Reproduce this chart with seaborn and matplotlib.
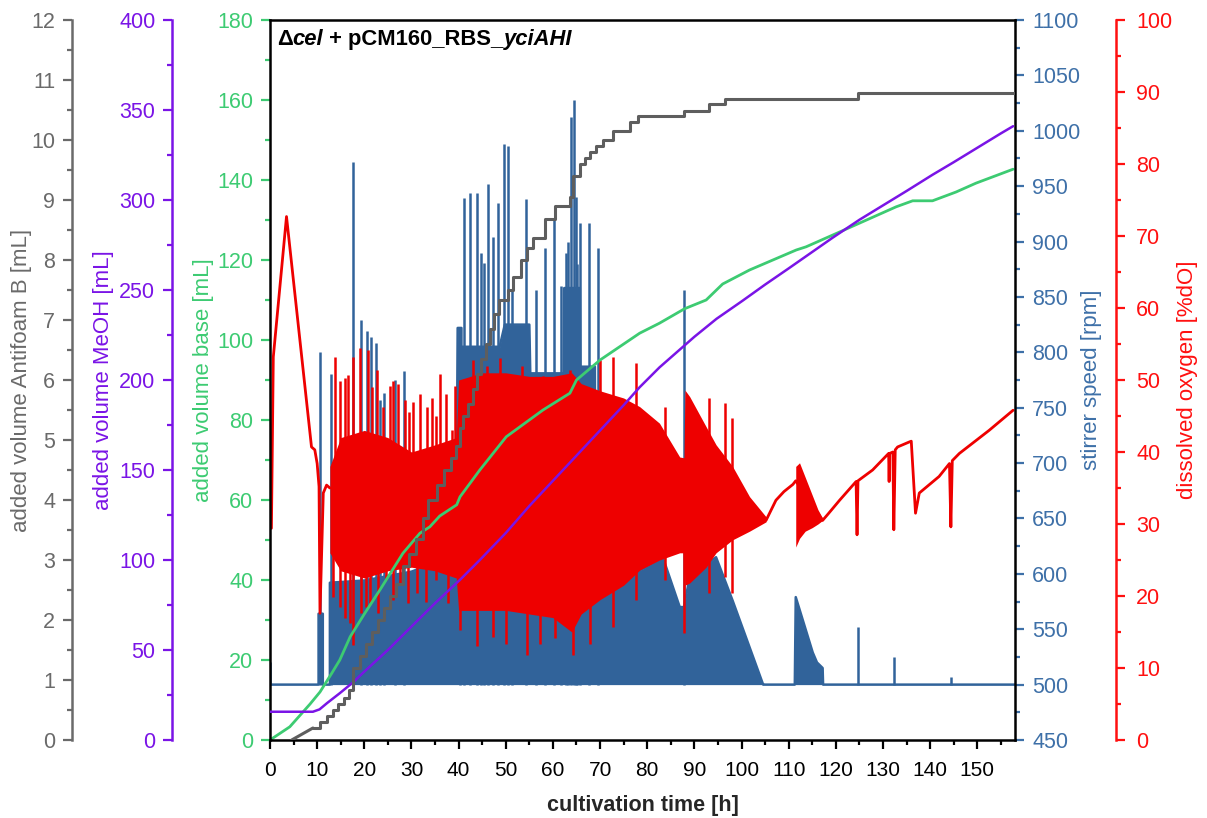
import numpy as np
import matplotlib
matplotlib.use("Agg")
import matplotlib.pyplot as plt
import seaborn as sns
from matplotlib.ticker import MultipleLocator
from matplotlib.offsetbox import TextArea, HPacker, AnchoredOffsetbox

# ---------------- data ----------------
# added volume of base [mL]
base_t = [0, 4.2, 8.5, 10.6, 13.1, 14.8, 17.0, 20.0, 23.3, 28.2, 31.8, 33.9, 36.0,
          39.6, 40.3, 44.5, 50.1, 57.9, 63.6, 65.0, 70.0, 78.4, 82.6, 87.9, 92.5,
          96.0, 101.7, 111.6, 113.7, 120.8, 132.8, 136.3, 140.5, 145.5, 149.7, 157.6]
base_v = [0, 3.3, 9.0, 12.0, 16.7, 20.0, 25.8, 31.5, 37.5, 46.7, 51.7, 53.3, 56.0,
          58.8, 60.8, 67.5, 75.8, 82.5, 86.7, 90.0, 95.0, 101.7, 104.2, 107.8, 110.0,
          114.0, 117.5, 122.5, 123.3, 127.0, 133.3, 134.8, 134.8, 137.0, 139.2, 142.7]

# added volume of methanol [mL]
meoh_t = [0, 9.1, 10.5, 12.1, 14.8, 17.6, 20, 25, 30, 35, 40.3, 44.5, 50, 55, 60, 65,
          70, 75, 78.4, 82.6, 90, 94.7, 100.2, 105, 110, 119.3, 125, 130, 135, 140.5,
          145, 150, 155, 157.6]
meoh_v = [15.7, 15.7, 17, 20.5, 26, 32, 38, 50, 63, 76, 89, 100, 115, 130, 144, 158,
          172, 186, 196, 207, 224, 234, 244, 253, 262, 279, 289, 297, 305, 314,
          321, 329, 337, 341]

# added volume of Antifoam B [mL]: initial ramp, then pump pulses
af_ramp_t = [4.6, 9.1]
af_ramp_v = [0.0, 0.2]
af_t = [9.1, 10.5, 12.0, 13.3, 14.5, 15.7, 16.8, 17.6, 19.0, 20.3, 21.6, 22.9, 24.2,
        25.5, 26.8, 28.2, 29.5, 31.0, 32.4, 33.6, 35.5, 37.0, 38.3, 39.4, 40.3, 41.0,
        42.0, 43.0, 44.0, 44.8, 45.8, 46.6, 47.4, 48.5, 50.4, 51.5, 53.3, 54.4, 55.8,
        58.3, 60.4, 63.6, 64.2, 65.7, 66.8, 67.8, 69.2, 70.6, 72.7, 76.3, 78.0, 87.9,
        93.2, 96.4, 124.6, 158.0]
af_v = [0.20, 0.30, 0.40, 0.50, 0.60, 0.70, 0.83, 1.20, 1.40, 1.60, 1.80, 2.00, 2.20,
        2.40, 2.60, 2.90, 3.10, 3.35, 3.70, 4.00, 4.25, 4.50, 4.70, 4.90, 5.20, 5.40,
        5.60, 5.85, 6.10, 6.35, 6.60, 6.85, 7.10, 7.33, 7.50, 7.72, 8.00, 8.20, 8.36,
        8.69, 8.90, 9.05, 9.40, 9.60, 9.70, 9.80, 9.90, 10.00, 10.15, 10.30, 10.40,
        10.49, 10.60, 10.68, 10.79, 10.79]

# stirrer speed [rpm]: upper envelope of the controller output and single peaks
stir_t = [0, 10.3, 10.3, 11.2, 11.2, 12.7, 12.7, 20, 30, 39.5, 39.8, 40.6, 40.6, 42.4,
          48.7, 49.8, 55.0, 55.2, 62.3, 62.4, 65.7, 65.8, 68.9, 69.0, 78.4, 83.3, 86.9,
          87.8, 89.0, 94.6, 98.1, 104.5, 104.6, 111.3, 111.5, 115.1, 116.0, 117.2,
          117.3, 158.0]
stir_v = [500, 500, 564, 564, 500, 500, 592, 594, 602, 617, 822, 822, 805, 805,
          805, 825, 825, 781, 781, 858, 858, 787, 787, 612, 603, 615, 570,
          570, 597, 615, 576, 501, 500, 500, 579, 529, 520, 515, 500, 500]
stir_peak_t = [0.1, 10.6, 12.9, 17.7, 19.4, 20.6, 21.5, 22.4, 23.3, 24.2, 26.5, 28.4,
               40.3, 41.1, 42.4, 43.8, 44.8, 45.3, 46.3, 47.3, 48.4, 49.7, 50.5, 51.3,
               54.2, 56.4, 58.4, 60.2, 61.8, 62.8, 63.3, 63.9, 64.4, 64.8, 65.2, 65.8,
               67.7, 69.6, 87.9, 124.6, 132.4, 144.4]
stir_peak_v = [520, 800, 780, 972, 829, 819, 814, 808, 757, 763, 775, 783,
               822, 939, 944, 944, 890, 881, 952, 904, 935, 988, 986, 855,
               938, 856, 894, 919, 860, 890, 900, 1012, 1028, 940, 880, 917,
               917, 894, 856, 552, 525, 507]

# dissolved oxygen [%dO]
do_start_t = [0.3, 0.7, 3.5, 8.8, 9.5, 10.0, 10.4, 10.6, 11.3, 12.0, 12.7]
do_start_v = [29.4, 53.2, 72.7, 40.7, 40.3, 38.4, 35.2, 17.6, 34.3, 35.4, 35.0]
do_band_t = [12.7, 15, 20, 25, 30, 35, 39.5, 40, 45, 50, 55, 60, 64, 66, 70, 75,
             78.4, 82.6, 86.9, 87.8, 88.0, 89.0, 92.5, 94.6, 98.1, 101.7, 105.2]
do_band_lo = [26, 23.5, 22.5, 23.5, 24, 23.5, 22.5, 18, 18, 18, 17.5, 17, 15, 17.5, 19.5,
              21.5, 23.6, 25, 26, 26, 21.5, 21.8, 24, 26, 27.8, 29, 30.3]
do_band_hi = [38, 42, 43, 42, 40, 41, 42, 50, 51, 51, 50.5, 50.5, 51, 49.5, 48.5, 47.5,
              46.3, 44, 39.3, 39.2, 48.6, 47.7, 43.5, 41, 38, 33.8, 31]
do_bump_t = [111.5, 112.3, 113.5, 115.0, 116.2, 117.2]
do_bump_lo = [26.8, 28.0, 29.0, 29.5, 30.0, 30.5]
do_bump_hi = [38.0, 38.5, 36.5, 34.0, 32.0, 30.8]
do_end_t = [105.2, 107.3, 109.0, 110.9, 111.5, 117.2, 118.5, 120.8, 124.3, 124.5, 124.7,
            127.8, 130.6, 131.2, 131.3, 131.4, 132.1, 132.3, 132.6, 133.1, 135.6, 136.0,
            136.9, 137.7, 141.9, 144.1, 144.4, 144.7, 146.2, 152.5, 157.6]
do_end_v = [30.5, 33.3, 34.5, 35.5, 36.0, 30.5, 31.5, 33.3, 35.9, 28.5, 36.0,
            37.5, 39.4, 39.8, 35.9, 39.8, 40.0, 29.2, 40.3, 40.7, 41.4, 41.5,
            31.5, 34.3, 36.6, 38.4, 29.6, 38.8, 39.8, 43.0, 45.8]
do_up_t = [13.8, 14.8, 15.9, 16.6, 17.6, 19.1, 20.8, 21.7, 22.6, 24.0, 25.4, 26.1, 27.2,
           28.6, 29.5, 30.4, 31.8, 33.2, 34.3, 35.2, 36.0, 37.4, 38.5, 39.2, 43.1, 46.0,
           48.7, 53.5, 57.9, 63.6, 69.9, 72.7, 77.7, 83.7, 93.2, 96.4, 98.0]
do_up_v = [53.2, 49.8, 50.3, 50.7, 53.2, 54.4, 54.2, 49.0, 51.4, 46.3, 49.1, 49.8, 49.5,
           47.2, 45.5, 47.0, 48.1, 46.3, 47.5, 45.0, 50.9, 48.1, 43.0, 49.1, 52.8, 52.0,
           53.0, 52.0, 50.5, 51.4, 52.8, 53.2, 52.3, 46.3, 47.5, 46.8, 44.7]
do_down_t = [13.4, 14.8, 16.0, 17.0, 17.6, 19.4, 20.3, 21.2, 22.9, 24.7, 26.0, 27.5, 29.3,
             31.1, 33.0, 35.3, 37.8, 40.3, 43.8, 47.3, 50.1, 54.4, 57.2, 60.4, 64.3,
             67.8, 72.7, 77.7, 83.7, 87.9, 93.2, 96.4, 98.0]
do_down_v = [19.9, 18.5, 17.0, 16.2, 13.2, 17.6, 18.5, 19.0, 17.6, 22.2, 19.5, 21.5, 19.0,
             20.4, 19.2, 22.2, 19.0, 15.3, 13.0, 14.3, 13.4, 11.8, 13.4, 14.1, 11.8,
             13.4, 15.7, 19.4, 22.2, 14.8, 20.4, 22.6, 20.4]

x_ticks = list(range(0, 151, 10))

# ---------------- style ----------------
sns.set_theme(style="ticks")
plt.rcParams["font.family"] = ["Liberation Sans", "DejaVu Sans"]
plt.rcParams["axes.linewidth"] = 1.8

C_GRAY, C_GRAY_AX = "#5e5e5e", "#6a6a6a"
C_PURPLE = "#7A14E6"
C_GREEN = "#3DCB72"
C_BLUE, C_BLUE_AX = "#31639A", "#3E70A8"
C_RED, C_RED_AX = "#EE0000", "#FF1010"
LABEL_FONT = ["Liberation Sans Narrow", "Liberation Sans", "DejaVu Sans"]

fig = plt.figure(figsize=(12.07, 8.18), dpi=100)
fig.patch.set_facecolor("white")
ax = fig.add_axes([270 / 1207, 78 / 818, 745 / 1207, 720 / 818])
ax_st = ax.twinx()
ax_do = ax.twinx()
ax_me = ax.twinx()
ax_af = ax.twinx()
ax.patch.set_visible(False)
for z, a in enumerate([ax_st, ax_do, ax, ax_me, ax_af], start=1):
    a.set_zorder(z)
    a.patch.set_visible(False)

# stirrer speed
ax_st.fill_between(stir_t, 500, stir_v, color=C_BLUE, lw=0)
ax_st.vlines(stir_peak_t, 500, stir_peak_v, color=C_BLUE, lw=1.8)
sns.lineplot(x=stir_t, y=stir_v, ax=ax_st, color=C_BLUE, linewidth=1.8,
             estimator=None, sort=False)

# dissolved oxygen
ax_do.fill_between(do_band_t, do_band_lo, do_band_hi, color=C_RED, lw=0)
ax_do.fill_between(do_bump_t, do_bump_lo, do_bump_hi, color=C_RED, lw=0)
mid_up = np.interp(do_up_t, do_band_t, np.add(do_band_lo, do_band_hi) / 2)
mid_dn = np.interp(do_down_t, do_band_t, np.add(do_band_lo, do_band_hi) / 2)
ax_do.vlines(do_up_t, mid_up, do_up_v, color=C_RED, lw=1.8)
ax_do.vlines(do_down_t, do_down_v, mid_dn, color=C_RED, lw=1.8)
for tt, vv in [(do_start_t, do_start_v), (do_end_t, do_end_v)]:
    sns.lineplot(x=tt, y=vv, ax=ax_do, color=C_RED, linewidth=2.0,
                 estimator=None, sort=False)

# feeds
sns.lineplot(x=base_t, y=base_v, ax=ax, color=C_GREEN, linewidth=2.0,
             estimator=None, sort=False)
sns.lineplot(x=meoh_t, y=meoh_v, ax=ax_me, color=C_PURPLE, linewidth=1.8,
             estimator=None, sort=False)
sns.lineplot(x=af_ramp_t, y=af_ramp_v, ax=ax_af, color=C_GRAY, linewidth=2.2,
             estimator=None, sort=False)
sns.lineplot(x=af_t, y=af_v, ax=ax_af, color=C_GRAY, linewidth=2.2,
             estimator=None, sort=False, drawstyle="steps-post")

# ---------------- axes ----------------
ax.set_xlim(0, 158)
ax.set_ylim(0, 180)
ax_st.set_ylim(450, 1100)
ax_do.set_ylim(0, 100)
ax_me.set_ylim(0, 400)
ax_af.set_ylim(0, 12)

ax.set_xticks(x_ticks)
ax.xaxis.set_minor_locator(MultipleLocator(5))
for a, maj, mnr in [(ax, 20, 10), (ax_st, 50, 25), (ax_do, 10, 5),
                    (ax_me, 50, 25), (ax_af, 1, 0.5)]:
    a.yaxis.set_major_locator(MultipleLocator(maj))
    a.yaxis.set_minor_locator(MultipleLocator(mnr))

for a in [ax_st, ax_do, ax_me, ax_af]:
    for s in a.spines.values():
        s.set_visible(False)
for s in ax.spines.values():
    s.set_color("black")
    s.set_linewidth(1.8)

ax_do.spines["right"].set_visible(True)
ax_do.spines["right"].set_position(("axes", (1116 - 270) / 745))
ax_do.spines["right"].set_color(C_RED_AX)
ax_do.spines["right"].set_linewidth(1.8)

for a, pos, col in [(ax_me, 172, C_PURPLE), (ax_af, 72, C_GRAY_AX)]:
    a.yaxis.tick_left()
    a.yaxis.set_label_position("left")
    a.spines["left"].set_visible(True)
    a.spines["left"].set_position(("axes", (pos - 270) / 745))
    a.spines["left"].set_color(col)
    a.spines["left"].set_linewidth(1.8)

for a, col, pad in [(ax, C_GREEN, 5.5), (ax_st, C_BLUE_AX, 6), (ax_do, C_RED_AX, 8),
                    (ax_me, C_PURPLE, 5.5), (ax_af, C_GRAY_AX, 5.5)]:
    a.tick_params(axis="y", which="both", direction="out", colors=col,
                  width=1.6, labelsize=15.5, pad=pad)
    a.tick_params(axis="y", which="major", length=6.5)
    a.tick_params(axis="y", which="minor", length=3.5)
    a.set_ylabel("")
ax.tick_params(axis="x", which="both", direction="out", colors="black",
               width=1.6, labelsize=15, pad=8.5)
ax.tick_params(axis="x", which="major", length=6.5)
ax.tick_params(axis="x", which="minor", length=3.5)

ax.set_xlabel("cultivation time [h]", fontsize=15.5, fontweight="bold", labelpad=11)

# axis titles
label_y = 1 - 380 / 818
for x_px, text, col in [(22, "added volume Antifoam B [mL]", C_GRAY_AX),
                        (104, "added volume MeOH [mL]", C_PURPLE),
                        (203, "added volume base [mL]", C_GREEN),
                        (1092, "stirrer speed [rpm]", C_BLUE_AX),
                        (1188, "dissolved oxygen [%dO]", C_RED_AX)]:
    fig.text(x_px / 1207, label_y, text, rotation=90, ha="center", va="center",
             color=col, fontsize=16, family=LABEL_FONT)

# strain annotation
bold = dict(fontweight="bold", fontsize=15.8, color="black")
boldit = dict(fontweight="bold", fontstyle="italic", fontsize=15.8, color="black")
parts = [TextArea("\u0394", textprops=bold),
         TextArea("cel", textprops=boldit),
         TextArea(" + pCM160_RBS_", textprops=bold),
         TextArea("yciAHI", textprops=boldit)]
box = HPacker(children=parts, align="baseline", pad=0, sep=0)
anchored = AnchoredOffsetbox(loc="upper left", child=box, frameon=False, pad=0,
                             borderpad=0, bbox_to_anchor=(7 / 745, 1 - 9 / 720),
                             bbox_transform=ax.transAxes)
ax_af.add_artist(anchored)

fig.savefig("out.png", dpi=100, facecolor="white")
